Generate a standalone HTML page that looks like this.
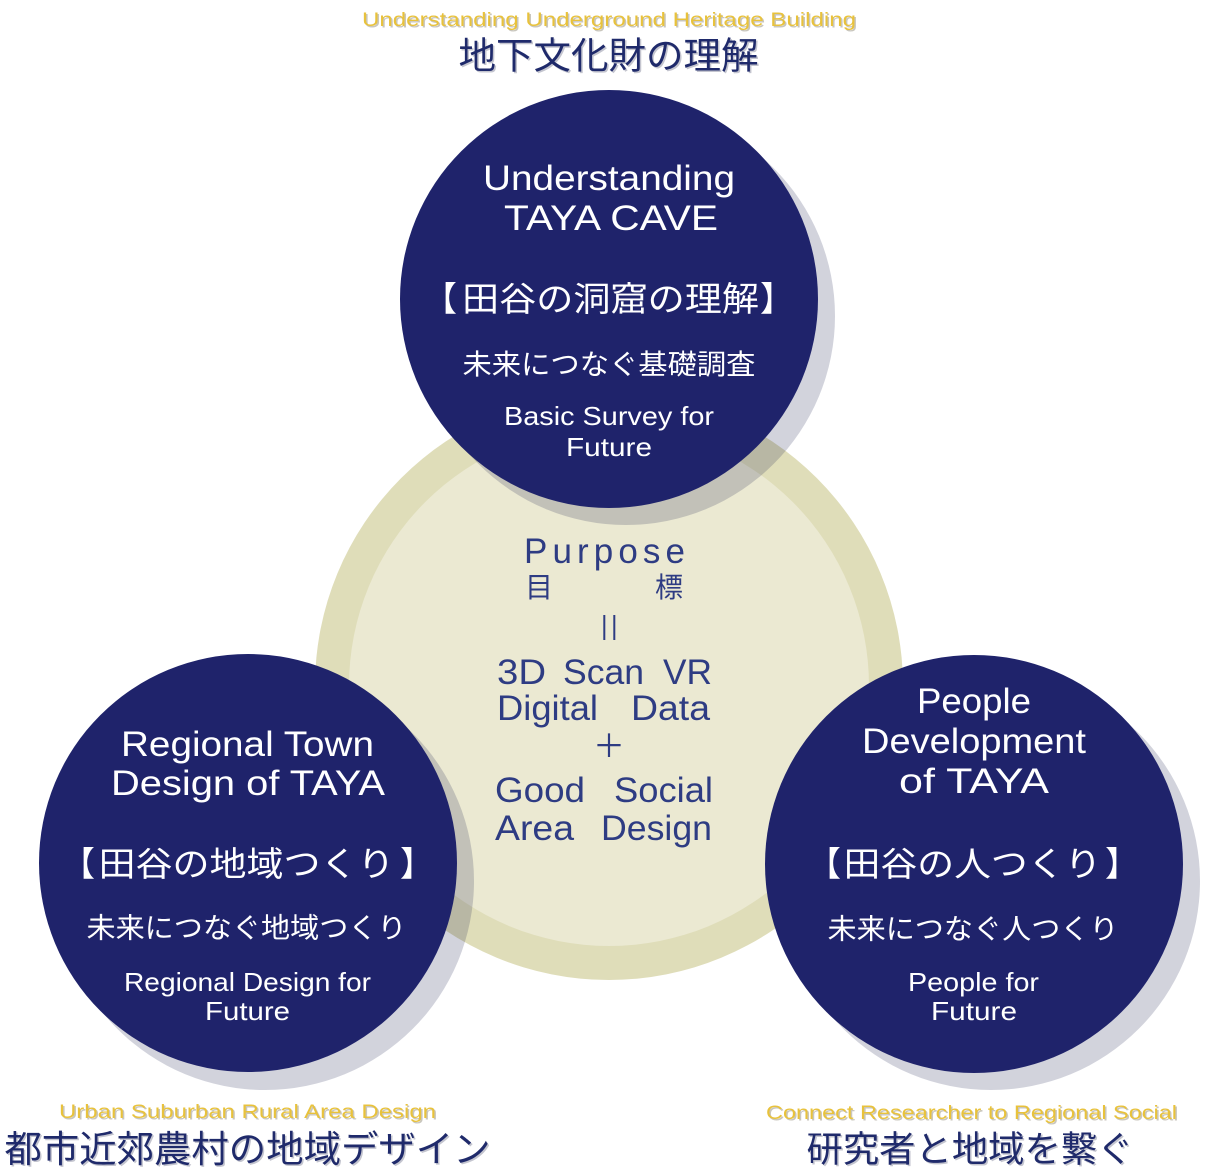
<!DOCTYPE html>
<html><head><meta charset="utf-8"><style>
html,body{margin:0;padding:0;background:#fff;}
svg{display:block;}
.l{font-family:"Liberation Sans",sans-serif;}
.j{font-family:"Noto Sans CJK JP","Liberation Sans",sans-serif;}
</style></head><body>
<svg width="1205" height="1175" viewBox="0 0 1205 1175" xmlns="http://www.w3.org/2000/svg">
<rect width="1205" height="1175" fill="#fff"/>
<circle cx="609" cy="686" r="294" fill="#dfddb9"/>
<circle cx="609" cy="686" r="260" fill="#ebe9d2"/>
<g fill="rgb(30,35,80)" fill-opacity="0.2">
<circle cx="626" cy="316" r="209"/>
<circle cx="265" cy="881" r="209"/>
<circle cx="991" cy="881" r="209"/>
</g>
<g fill="#1f236b">
<circle cx="609" cy="299" r="209"/>
<circle cx="248" cy="863" r="209"/>
<circle cx="974" cy="864" r="209"/>
</g>

<g class="l" font-size="19.5">
<text x="363.5" y="27.5" textLength="494" lengthAdjust="spacingAndGlyphs" fill="#c9c6bd">Understanding Underground Heritage Building</text>
<text x="362" y="26" textLength="494" lengthAdjust="spacingAndGlyphs" fill="#e8c23c">Understanding Underground Heritage Building</text>
<text x="60.5" y="1119.5" textLength="377" lengthAdjust="spacingAndGlyphs" fill="#c9c6bd">Urban Suburban Rural Area Design</text>
<text x="59" y="1118" textLength="377" lengthAdjust="spacingAndGlyphs" fill="#e8c23c">Urban Suburban Rural Area Design</text>
<text x="767.5" y="1120.5" textLength="411" lengthAdjust="spacingAndGlyphs" fill="#c9c6bd">Connect Researcher to Regional Social</text>
<text x="766" y="1119" textLength="411" lengthAdjust="spacingAndGlyphs" fill="#e8c23c">Connect Researcher to Regional Social</text>
</g>
<g class="j" font-size="37">
<text x="460" y="70" textLength="300" lengthAdjust="spacingAndGlyphs" fill="#c4c5cf">地下文化財の理解</text>
<text x="458.5" y="68.4" textLength="300" lengthAdjust="spacingAndGlyphs" fill="#1f2a6b">地下文化財の理解</text>
<text x="6" y="1163.5" textLength="486" lengthAdjust="spacingAndGlyphs" fill="#c4c5cf">都市近郊農村の地域デザイン</text>
<text x="4.5" y="1162" textLength="486" lengthAdjust="spacingAndGlyphs" fill="#1f2a6b">都市近郊農村の地域デザイン</text>
<text x="808" y="1163" font-size="36" textLength="327" lengthAdjust="spacingAndGlyphs" fill="#c4c5cf">研究者と地域を繋ぐ</text>
<text x="806.5" y="1161.5" font-size="36" textLength="327" lengthAdjust="spacingAndGlyphs" fill="#1f2a6b">研究者と地域を繋ぐ</text>
</g>

<g fill="#ffffff">
<g class="l" font-size="35">
<text x="483" y="190" textLength="252" lengthAdjust="spacingAndGlyphs">Understanding</text>
<text x="504" y="230" textLength="214" lengthAdjust="spacingAndGlyphs">TAYA CAVE</text>
</g>
<g class="j" font-size="34">
<text x="423" y="311">【</text>
<text x="462" y="311" textLength="297" lengthAdjust="spacingAndGlyphs">田谷の洞窟の理解</text>
<text x="760" y="311">】</text>
</g>
<text class="j" x="462.5" y="374" font-size="28" textLength="293" lengthAdjust="spacingAndGlyphs">未来につなぐ基礎調査</text>
<g class="l" font-size="26">
<text x="504" y="425" textLength="210" lengthAdjust="spacingAndGlyphs">Basic Survey for</text>
<text x="566" y="456" textLength="86" lengthAdjust="spacingAndGlyphs">Future</text>
</g>

<g class="l" font-size="35">
<text x="121" y="756" textLength="253" lengthAdjust="spacingAndGlyphs">Regional Town</text>
<text x="111" y="795" textLength="274" lengthAdjust="spacingAndGlyphs">Design of TAYA</text>
</g>
<g class="j" font-size="34">
<text x="61" y="876">【</text>
<text x="98.5" y="876" textLength="296" lengthAdjust="spacingAndGlyphs">田谷の地域つくり</text>
<text x="400" y="876">】</text>
</g>
<text class="j" x="86.5" y="937.5" font-size="28" textLength="320" lengthAdjust="spacingAndGlyphs">未来につなぐ地域つくり</text>
<g class="l" font-size="26">
<text x="124" y="991" textLength="247" lengthAdjust="spacingAndGlyphs">Regional Design for</text>
<text x="205" y="1020" textLength="85" lengthAdjust="spacingAndGlyphs">Future</text>
</g>

<g class="l" font-size="35">
<text x="917" y="713" textLength="114" lengthAdjust="spacingAndGlyphs">People</text>
<text x="862" y="753" textLength="224" lengthAdjust="spacingAndGlyphs">Development</text>
<text x="899" y="793" textLength="150" lengthAdjust="spacingAndGlyphs">of TAYA</text>
</g>
<g class="j" font-size="34">
<text x="807" y="876">【</text>
<text x="843.5" y="876" textLength="258" lengthAdjust="spacingAndGlyphs">田谷の人つくり</text>
<text x="1105" y="876">】</text>
</g>
<text class="j" x="827.5" y="938.5" font-size="28" textLength="291" lengthAdjust="spacingAndGlyphs">未来につなぐ人つくり</text>
<g class="l" font-size="26">
<text x="908" y="991" textLength="131" lengthAdjust="spacingAndGlyphs">People for</text>
<text x="931" y="1020" textLength="86" lengthAdjust="spacingAndGlyphs">Future</text>
</g>
</g>

<g fill="#2e3c83">
<g class="l" font-size="35">
<text x="524" y="563" textLength="161" lengthAdjust="spacing">Purpose</text>
</g>
<g class="j" font-size="28">
<text x="539" y="597" text-anchor="middle">目</text>
<text x="669" y="597" text-anchor="middle">標</text>
</g>
<rect x="603.3" y="615" width="2" height="25"/>
<rect x="613.3" y="615" width="2" height="25"/>
<g class="l" font-size="35">
<text x="497" y="684" textLength="49" lengthAdjust="spacingAndGlyphs">3D</text>
<text x="563" y="684" textLength="81" lengthAdjust="spacingAndGlyphs">Scan</text>
<text x="663" y="684" textLength="49" lengthAdjust="spacingAndGlyphs">VR</text>
<text x="497" y="720" textLength="101" lengthAdjust="spacingAndGlyphs">Digital</text>
<text x="631" y="720" textLength="79" lengthAdjust="spacingAndGlyphs">Data</text>
<text x="495" y="802" textLength="90" lengthAdjust="spacingAndGlyphs">Good</text>
<text x="614" y="802" textLength="99" lengthAdjust="spacingAndGlyphs">Social</text>
<text x="495" y="840" textLength="79" lengthAdjust="spacingAndGlyphs">Area</text>
<text x="601" y="840" textLength="111" lengthAdjust="spacingAndGlyphs">Design</text>
</g>
<text class="j" x="609" y="757" font-size="32" text-anchor="middle">＋</text>
</g>
</svg>
</body></html>
